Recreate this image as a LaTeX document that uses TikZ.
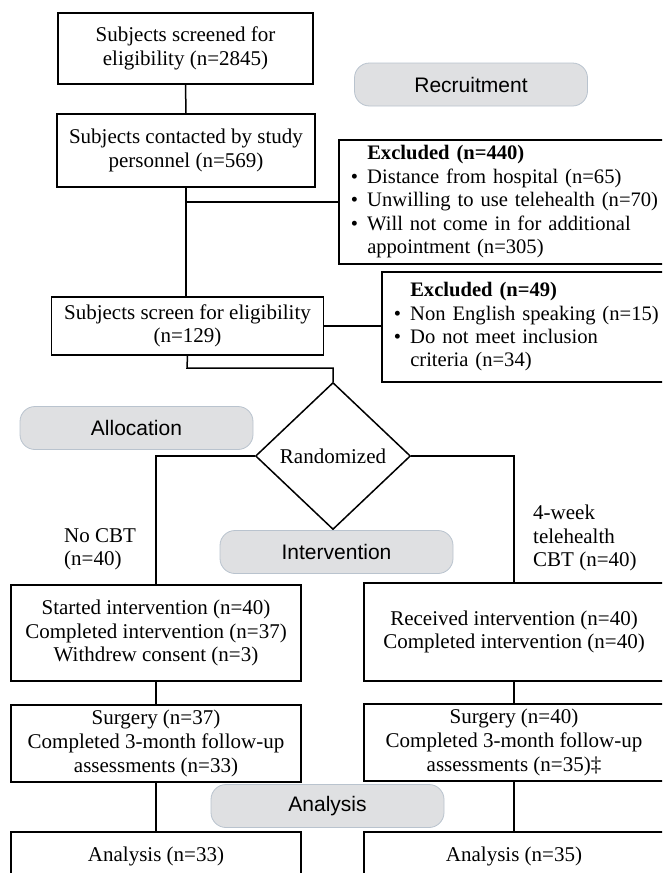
\documentclass[tikz,border=0pt]{standalone}
\usepackage{fontspec}
\setmainfont{Liberation Serif}
\newfontfamily\pillfont{Liberation Sans}
\usetikzlibrary{shapes.geometric}
\definecolor{pillfill}{HTML}{DFE0E2}
\definecolor{pillline}{HTML}{B9C3CE}
\tikzset{
  box/.style={draw=black, line width=1.5pt, align=center, inner sep=0pt,
    font=\fontsize{21}{23.6}\selectfont},
  exbox/.style={box, anchor=north west, align=left, inner xsep=12pt,
    font=\fontsize{20.6}{23.4}\selectfont},
  pill/.style={draw=pillline, fill=pillfill, line width=0.8pt, rounded corners=15pt,
    minimum width=233pt, minimum height=43pt, inner sep=0pt,
    font=\pillfont\fontsize{21}{23}\selectfont},
  lbl/.style={align=left, inner sep=0pt, anchor=north west,
    font=\fontsize{21}{23.6}\selectfont},
  conn/.style={draw=black, line width=1.5pt},
}
\newcommand{\bul}{\makebox[16.5pt][l]{\textbullet}}
\begin{document}
\begin{tikzpicture}[x=1pt,y=-1pt]
\useasboundingbox (0,0) rectangle (662,873);
\clip (0,0) rectangle (662,873);
% main column
\node[box, minimum width=255pt, minimum height=71pt] (b1) at (185.5,48.5) {Subjects screened for\\eligibility (n=2845)};
\node[box, minimum width=258pt, minimum height=73pt] (b2) at (186,150.5) {Subjects contacted by study\\personnel (n=569)};
\node[box, minimum width=272pt, minimum height=58pt] (b3) at (187.5,326) {Subjects screen for eligibility\\(n=129)};
% exclusion boxes
\node[exbox, minimum width=330pt, minimum height=124pt, text width=318pt] (ex1) at (338,139)
  {\hspace*{16.5pt}\textbf{Excluded (n=440)}\\
   \bul Distance from hospital (n=65)\\
   \bul Unwilling to use telehealth (n=70)\\
   \bul Will not come in for additional\\
   \hspace*{16.5pt}appointment (n=305)};
\node[exbox, minimum width=290pt, minimum height=110pt, text width=278pt] (ex2) at (381,271)
  {\hspace*{16.5pt}\textbf{Excluded (n=49)}\\
   \bul Non English speaking (n=15)\\
   \bul Do not meet inclusion\\
   \hspace*{16.5pt}criteria (n=34)};
% randomization
\node[box, diamond, minimum width=155pt, minimum height=147pt, aspect=1.05] (rand) at (333,456) {Randomized};
% arms
\node[box, minimum width=290pt, minimum height=96pt] (l1) at (156,633) {Started intervention (n=40)\\Completed intervention (n=37)\\Withdrew consent (n=3)};
\node[box, minimum width=300pt, minimum height=98pt] (r1) at (514,632) {Received intervention (n=40)\\Completed intervention (n=40)};
\node[box, minimum width=290pt, minimum height=77pt] (l2) at (156,743.5) {Surgery (n=37)\\Completed 3-month follow-up\\assessments (n=33)};
\node[box, minimum width=300pt, minimum height=77pt] (r2) at (514,742.5) {Surgery (n=40)\\Completed 3-month follow-up\\assessments (n=35)‡};
\node[box, minimum width=290pt, minimum height=48pt] (l3) at (156,856) {Analysis (n=33)};
\node[box, minimum width=300pt, minimum height=48pt] (r3) at (514,856) {Analysis (n=35)};
% labels
\node[lbl] (nocbt) at (64,528) {No CBT\\(n=40)};
\node[lbl] (tele) at (533,505) {4-week\\telehealth\\CBT (n=40)};
% pills
\node[pill] (recr) at (471,84.5) {Recruitment};
\node[pill] (alloc) at (136.5,428) {Allocation};
\node[pill] (interv) at (336.5,552) {Intervention};
\node[pill] (anal) at (327.5,806) {Analysis};
% connectors
\draw[conn] (b1.south) -- (b2.south |- b2.north);
\draw[conn] (b2.south) -- (b2.south |- b3.north);
\draw[conn] (b2.south |- ex1.west) -- (ex1.west);
\draw[conn] (b3.east) -- (b3.east -| ex2.west);
\coordinate (bend) at (187,368);
\draw[conn] (b3.south) -- (bend) -| (rand.north);
\draw[conn] (rand.west) -| (l1.north);
\draw[conn] (rand.east) -| (r1.north);
\draw[conn] (l1.south) -- (l2.north);
\draw[conn] (r1.south) -- (r2.north);
\draw[conn] (l2.south) -- (l3.north);
\draw[conn] (r2.south) -- (r3.north);
\end{tikzpicture}
\end{document}
